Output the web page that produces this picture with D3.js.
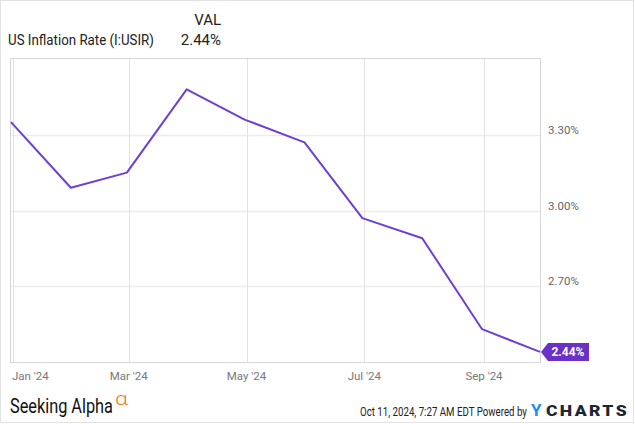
<!DOCTYPE html>
<html>
<head>
<meta charset="utf-8">
<script src="https://cdn.jsdelivr.net/npm/d3@7"></script>
<style>
  body { margin: 0; background: #fff; }
  text { font-family: Roboto, "Noto Sans", sans-serif; }
</style>
</head>
<body>
<div class="chart"></div>
<script>
// monthly readings, dated at month end
let dates = ["2023-12-31", "2024-01-31", "2024-02-29", "2024-03-31", "2024-04-30",
             "2024-05-31", "2024-06-30", "2024-07-31", "2024-08-31", "2024-09-30"];
let values = [3.35, 3.09, 3.15, 3.48, 3.36, 3.27, 2.97, 2.89, 2.53, 2.44];

let yTicks = [2.70, 3.00, 3.30];
let xTicks = ["2024-01-01", "2024-03-01", "2024-05-01", "2024-07-01", "2024-09-01"];

let seriesName = "US Inflation Rate (I:USIR)";
let lastLabel = "2.44%";

let chart = {};
let parse = d3.timeParse("%Y-%m-%d");

init();

function init() {
    chart.data = dates.map((d, i) => ({date: parse(d), value: values[i]}));
    setDimensions();
    setScales();
    draw();
}

function setDimensions() {
    chart.width = 635;
    chart.height = 424;
    chart.left = 11;
    chart.right = 540;
    chart.top = 59;
    chart.bottom = 362;
}

function setScales() {
    chart.xScale = d3.scaleTime()
        .domain([parse("2023-12-31"), parse("2024-09-30")])
        .range([chart.left, chart.right]);

    chart.yScale = d3.scaleLinear()
        .domain([2.40, 3.60])
        .range([chart.bottom, chart.top]);
}

// squeeze a text horizontally to a target width (keeps its bbox honest)
function fitText(sel, x, y, targetWidth) {
    let w = sel.node().getComputedTextLength();
    let k = targetWidth / w;
    sel.attr("x", 0).attr("y", 0)
        .attr("transform", `translate(${x},${y}) scale(${k},1)`);
}

function draw() {
    let svg = d3.select(".chart").append("svg")
        .attr("width", chart.width)
        .attr("height", chart.height);

    // outer frame
    svg.append("rect")
        .attr("x", 0.5).attr("y", 0.5)
        .attr("width", 633).attr("height", 422)
        .attr("fill", "none").attr("stroke", "#e2e2e2");

    // legend
    svg.append("text")
        .attr("x", 221).attr("y", 25)
        .attr("text-anchor", "end")
        .attr("font-size", 15).attr("fill", "#222")
        .text("VAL");
    let name = svg.append("text")
        .attr("font-size", 15).attr("fill", "#222")
        .text(seriesName);
    fitText(name, 8, 45, 146);
    svg.append("text")
        .attr("x", 221).attr("y", 45)
        .attr("text-anchor", "end")
        .attr("font-size", 15).attr("fill", "#222")
        .text(values[values.length - 1].toFixed(2) + "%");

    // gridlines
    svg.append("g").selectAll("line")
        .data(yTicks)
        .join("line")
        .attr("x1", chart.left).attr("x2", chart.right)
        .attr("y1", d => Math.round(chart.yScale(d)) + 0.5)
        .attr("y2", d => Math.round(chart.yScale(d)) + 0.5)
        .attr("stroke", "#ececec").attr("stroke-width", 1.5);

    svg.append("g").selectAll("line")
        .data(xTicks)
        .join("line")
        .attr("x1", d => Math.round(chart.xScale(parse(d))) + 0.5)
        .attr("x2", d => Math.round(chart.xScale(parse(d))) + 0.5)
        .attr("y1", chart.top).attr("y2", chart.bottom)
        .attr("stroke", "#e2e2e2");

    // plot frame
    svg.append("rect")
        .attr("x", chart.left - 0.5).attr("y", chart.top - 0.5)
        .attr("width", chart.right - chart.left + 1)
        .attr("height", chart.bottom - chart.top + 1)
        .attr("fill", "none").attr("stroke", "#d6d6d6");

    // y labels
    svg.append("g").selectAll("text")
        .data(yTicks)
        .join("text")
        .attr("x", 548)
        .attr("y", d => chart.yScale(d) - 1)
        .attr("font-size", 11.5).attr("fill", "#666")
        .text(d => d.toFixed(2) + "%");

    // x labels
    let fmt = d3.timeFormat("%b '%y");
    svg.append("g").selectAll("text")
        .data(xTicks)
        .join("text")
        .attr("x", (d, i) => i === 0 ? chart.left + 1 : chart.xScale(parse(d)))
        .attr("y", 380)
        .attr("text-anchor", (d, i) => i === 0 ? "start" : "middle")
        .attr("font-size", 11.5).attr("fill", "#777")
        .text(d => fmt(parse(d)));

    // line
    let line = d3.line()
        .x(d => chart.xScale(d.date))
        .y(d => chart.yScale(d.value));

    svg.append("path")
        .datum(chart.data)
        .attr("d", line)
        .attr("fill", "none")
        .attr("stroke", "#6e3fd6")
        .attr("stroke-width", 2)
        .attr("stroke-linejoin", "round");

    // end value tag
    let last = chart.data[chart.data.length - 1];
    let ty = chart.yScale(last.value);
    let tx = chart.xScale(last.date) + 1;
    svg.append("path")
        .attr("d", `M${tx},${ty} L${tx + 7},${ty - 9} L${tx + 48},${ty - 9} L${tx + 48},${ty + 9} L${tx + 7},${ty + 9} Z`)
        .attr("fill", "#6a30c8");
    svg.append("text")
        .attr("x", tx + 27).attr("y", ty + 4.5)
        .attr("text-anchor", "middle")
        .attr("font-size", 12).attr("font-weight", "bold")
        .attr("fill", "#fff")
        .text(lastLabel);

    // footer
    let sa = svg.append("text")
        .attr("font-family", "Lato, 'Open Sans', sans-serif")
        .attr("font-size", 20).attr("fill", "#111")
        .text("Seeking Alpha");
    fitText(sa, 10, 413, 103);
    let alpha = svg.append("text")
        .attr("font-family", "'Noto Sans', 'DejaVu Sans', sans-serif")
        .attr("font-size", 18).attr("font-weight", 300).attr("fill", "#f07c1a")
        .text("α");
    fitText(alpha, 115, 404.5, 13);

    let stamp = svg.append("text")
        .attr("font-size", 12).attr("fill", "#222")
        .text("Oct 11, 2024, 7:27 AM EDT Powered by");
    fitText(stamp, 360, 415.5, 167);

    svg.append("text")
        .attr("x", 531).attr("y", 416)
        .attr("font-size", 17).attr("font-weight", "bold")
        .attr("fill", "#1e8fe8")
        .text("Y");
    let charts = svg.append("text")
        .attr("font-size", 15).attr("font-weight", 900)
        .attr("letter-spacing", 2)
        .attr("fill", "#1d2733")
        .text("CHARTS");
    fitText(charts, 546, 416, 83);
}
</script>
</body>
</html>
